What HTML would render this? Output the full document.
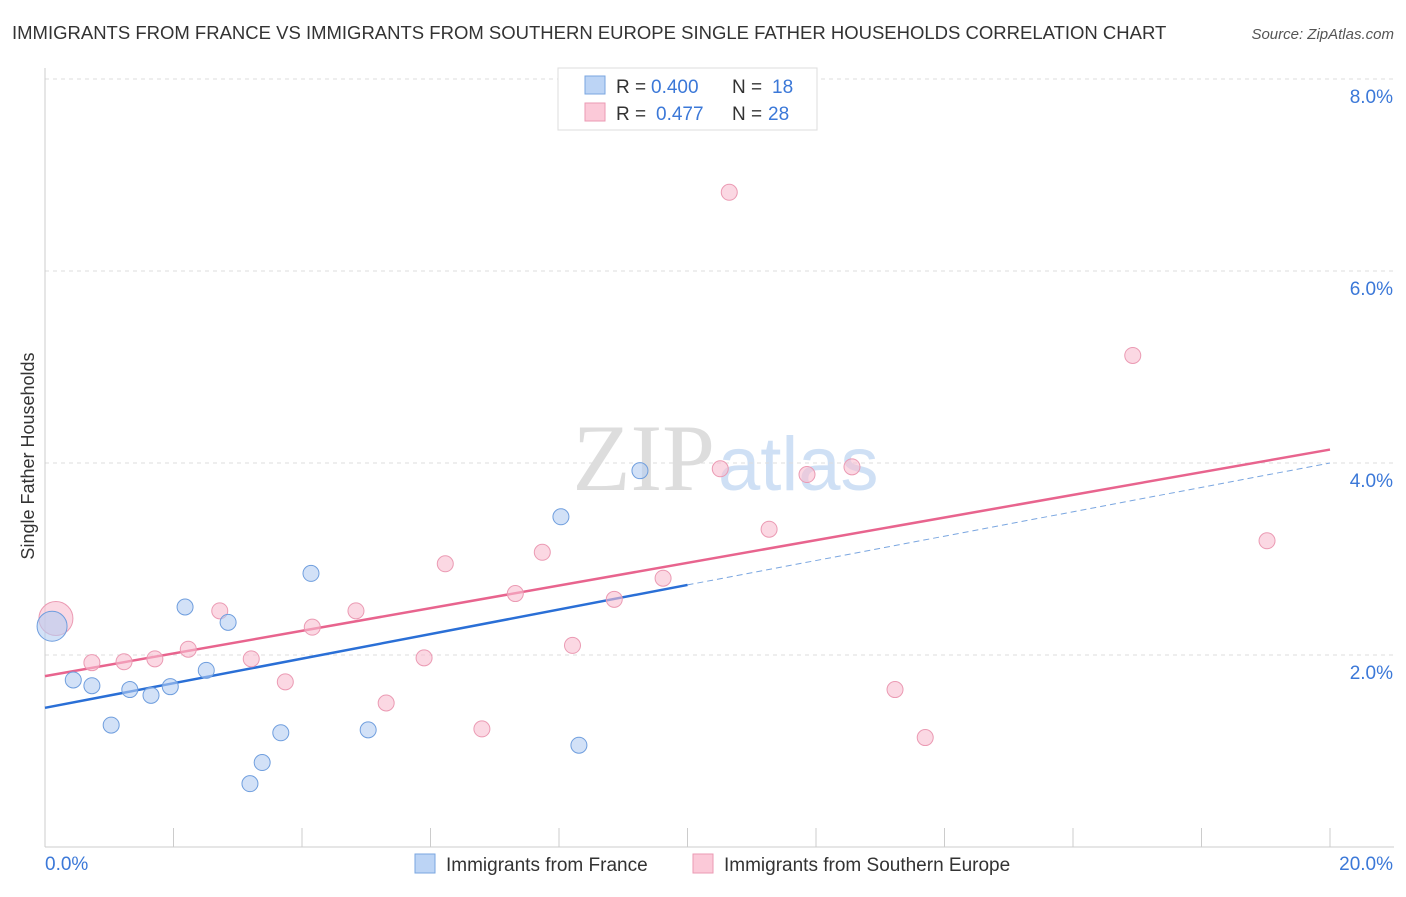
<!DOCTYPE html>
<html><head><meta charset="utf-8"><style>
body{margin:0;background:#fff;font-family:"Liberation Sans",sans-serif;}
</style></head><body>
<svg width="1406" height="892" xmlns="http://www.w3.org/2000/svg" id="chart" font-family="Liberation Sans, sans-serif" xml:space="preserve">
<text x="12" y="39" font-size="18.5" fill="#333">IMMIGRANTS FROM FRANCE VS IMMIGRANTS FROM SOUTHERN EUROPE SINGLE FATHER HOUSEHOLDS CORRELATION CHART</text>
<text x="1394" y="39" font-size="15" fill="#555" font-style="italic" text-anchor="end">Source: ZipAtlas.com</text>
<text x="715" y="490" font-size="95" fill="#ddd" text-anchor="end" font-family="Liberation Serif, serif">ZIP</text>
<text x="718" y="490" font-size="76" fill="#cfe0f5">atlas</text>
<text x="34" y="456" font-size="18" fill="#333" text-anchor="middle" transform="rotate(-90 34 456)">Single Father Households</text>
<g id="grid"></g><g id="axes"></g><g id="lines"></g><g id="pts"></g>
<g>
<rect x="558" y="68" width="259" height="62" fill="#fff" stroke="#ddd"/>
<rect x="585" y="76" width="20" height="18" fill="#bcd4f5" stroke="#7aa6e0"/>
<rect x="585" y="103" width="20" height="18" fill="#fbc9d8" stroke="#eb9ab3"/>
<text x="616" y="93" font-size="19" fill="#333">R = </text><text x="651" y="93" font-size="19" fill="#3b78d8">0.400</text><text x="732" y="93" font-size="19" fill="#333">N = </text><text x="772" y="93" font-size="19" fill="#3b78d8">18</text>
<text x="616" y="120" font-size="19" fill="#333">R = </text><text x="656" y="120" font-size="19" fill="#3b78d8">0.477</text><text x="732" y="120" font-size="19" fill="#333">N = </text><text x="768" y="120" font-size="19" fill="#3b78d8">28</text>
</g>
<g>
<rect x="415" y="854" width="20" height="19" fill="#bcd4f5" stroke="#7aa6e0"/>
<text x="446" y="871" font-size="19" fill="#333">Immigrants from France</text>
<rect x="693" y="854" width="20" height="19" fill="#fbc9d8" stroke="#eb9ab3"/>
<text x="724" y="871" font-size="19" fill="#333">Immigrants from Southern Europe</text>
</g>
</svg>
<script>
const blueX=[0.11,0.44,0.73,1.03,1.32,1.65,1.95,2.18,2.51,2.85,3.19,3.38,3.67,4.14,5.03,8.03,8.31,9.26];
const blueY=[2.30,1.74,1.68,1.27,1.64,1.58,1.67,2.50,1.84,2.34,0.66,0.88,1.19,2.85,1.22,3.44,1.06,3.92];
const pinkX=[0.17,0.73,1.23,1.71,2.23,2.72,3.21,3.74,4.16,4.84,5.31,5.90,6.23,6.80,7.32,7.74,8.21,8.86,9.62,10.51,10.65,11.27,11.86,12.56,13.23,13.70,16.93,19.02];
const pinkY=[2.38,1.92,1.93,1.96,2.06,2.46,1.96,1.72,2.29,2.46,1.50,1.97,2.95,1.23,2.64,3.07,2.10,2.58,2.80,3.94,6.82,3.31,3.88,3.96,1.64,1.14,5.12,3.19];
const blueBig=[true].concat(Array(17).fill(false));
const pinkBig=[true].concat(Array(27).fill(false));
const blueTrendX=[0,10,20], blueTrendY=[1.45,2.73,4.0];
const pinkTrendX=[0,20], pinkTrendY=[1.78,4.14];
const yTicks=[2,4,6,8], yTickLabels=["2.0%","4.0%","6.0%","8.0%"];
const xTicks=[0,2,4,6,8,10,12,14,16,18,20];
const NS="http://www.w3.org/2000/svg";
const sx=v=>45+v*64.25, sy=v=>847-v*96;
function mk(p,t,a){const e=document.createElementNS(NS,t);for(const k in a)e.setAttribute(k,a[k]);document.getElementById(p).appendChild(e);return e;}
yTicks.forEach((t,i)=>{
 const l=mk('grid','line',{x1:45,x2:1394,y1:sy(t),y2:sy(t),stroke:'#ddd','stroke-dasharray':'4,4'});
 
 
 const tx=mk('grid','text',{x:1393,y:sy(t)+24,'font-size':19,fill:'#3b78d8','text-anchor':'end'});
 tx.textContent=yTickLabels[i];
 
 
});
const ya=mk('axes','line',{x1:45,x2:45,y1:68,y2:847,stroke:'#ccc'});


const xa=mk('axes','line',{x1:45,x2:1394,y1:847,y2:847,stroke:'#ccc'});


xTicks.forEach(t=>{const l=mk('axes','line',{x1:sx(t),x2:sx(t),y1:828,y2:847,stroke:'#ccc'});
 
 });
[["0.0%",45,"start"],["20.0%",1393,"end"]].forEach(a=>{const t=mk('axes','text',{x:a[1],y:870,'font-size':19,fill:'#3b78d8','text-anchor':a[2]});t.textContent=a[0];
 
 });
const bs=mk('lines','line',{x1:sx(blueTrendX[0]),y1:sy(blueTrendY[0]),x2:sx(blueTrendX[1]),y2:sy(blueTrendY[1]),stroke:'#2a6fd6','stroke-width':2.5});


const bd=mk('lines','line',{x1:sx(blueTrendX[1]),y1:sy(blueTrendY[1]),x2:sx(blueTrendX[2]),y2:sy(blueTrendY[2]),stroke:'#7aa6e0','stroke-width':1,'stroke-dasharray':'6,4'});


const pl=mk('lines','line',{x1:sx(pinkTrendX[0]),y1:sy(pinkTrendY[0]),x2:sx(pinkTrendX[1]),y2:sy(pinkTrendY[1]),stroke:'#e8648e','stroke-width':2.5});


pinkX.forEach((x,i)=>{const c=mk('pts','circle',{cx:sx(x),cy:sy(pinkY[i]),r:pinkBig[i]?17:8,fill:'rgba(248,190,208,0.6)',stroke:'#eb9ab3','stroke-width':1});
 
 });
blueX.forEach((x,i)=>{const c=mk('pts','circle',{cx:sx(x),cy:sy(blueY[i]),r:blueBig[i]?15:8,fill:'rgba(180,205,242,0.6)',stroke:'#6f9ede','stroke-width':1});
 
 });
</script>
</body></html>
